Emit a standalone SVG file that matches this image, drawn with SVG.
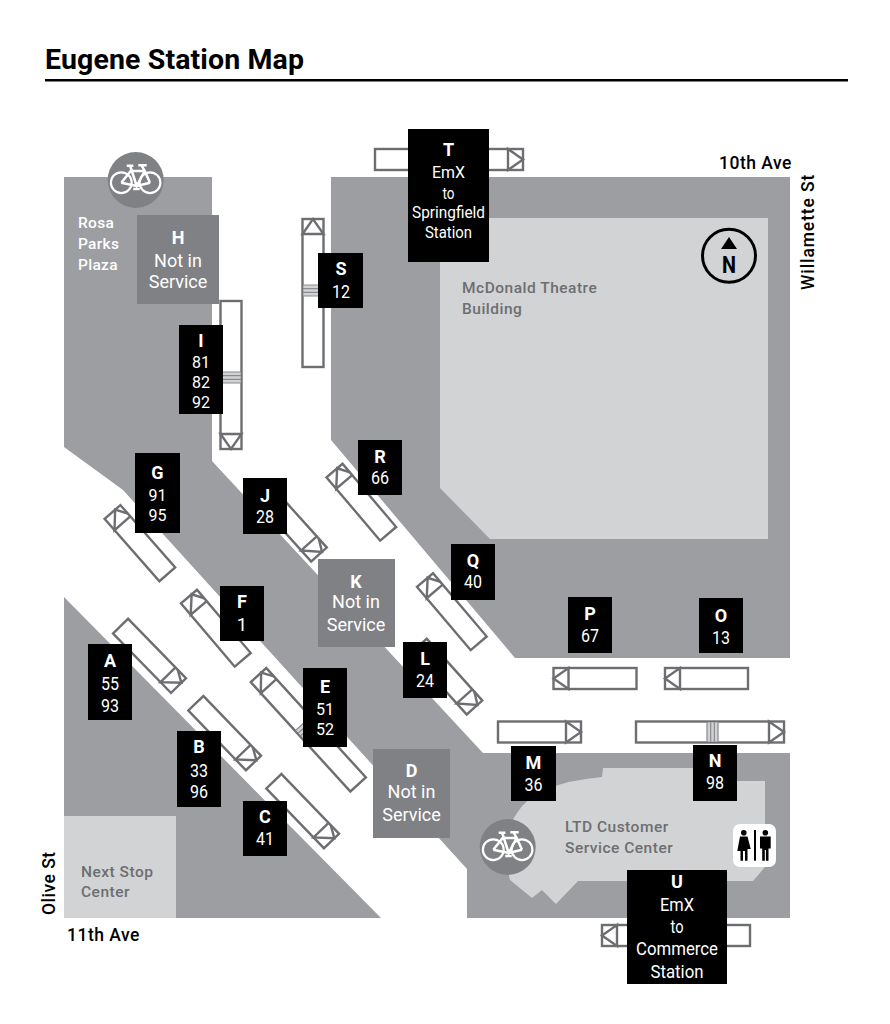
<svg xmlns="http://www.w3.org/2000/svg" width="890" height="1024" viewBox="0 0 890 1024">
<style>
text{font-family:Roboto,"Liberation Sans",sans-serif}
.g{fill:#9d9ea1}.lt{fill:#d1d3d4}
.k{fill:#000}.ns{fill:#808184}
.b{fill:#fff;stroke:#6d6e71;stroke-width:2.4}
.a{fill:none;stroke:#6d6e71;stroke-width:2.4;stroke-linejoin:miter}
.d{fill:none;stroke:#8a8b8e;stroke-width:1.2}
.dz{fill:#d1d3d4}
.L{fill:#fff;font-size:18px;font-weight:700;text-anchor:middle}
.n{fill:#fff;font-size:18.500px;font-weight:400;text-anchor:middle}
.n3{fill:#fff;font-size:17px;font-weight:400;text-anchor:middle}
.t{fill:#fff;font-size:17px;font-weight:400;text-anchor:middle}
.u{fill:#fff;font-size:18.500px;font-weight:400;text-anchor:middle}
.v{fill:#fff;font-size:18px;font-weight:400;text-anchor:middle}
.w{fill:#fff;font-size:15.500px;font-weight:500;letter-spacing:.3px}
.m{fill:#6d6e71;font-size:15.500px;font-weight:500;letter-spacing:.5px}
.s{fill:#000;font-size:17.500px;font-weight:500;letter-spacing:.5px}
</style>
<defs>
<g id="door"><rect class="dz" x="66" y="-9.500" width="11" height="19"/><path class="d" d="M66-10V10M69.700-10V10M73.300-10V10M77-10V10"/></g>
<g id="bay82"><rect class="b" x="0" y="-10.500" width="83" height="21"/><path class="a" d="M15-10.500V10.500L0 0Z"/></g>
<g id="bay82a"><rect class="b" x="0" y="-10.500" width="83" height="21"/><path class="a" d="M15-10.500V10.500L0-3.500L11.500-10.500"/></g>
<g id="bay82b"><rect class="b" x="0" y="-10.500" width="83" height="21"/><path class="a" d="M15 10.500V-10.500L0 4L12 10.500"/></g>
<g id="bay148"><rect class="b" x="0" y="-10.500" width="148" height="21"/><path class="a" d="M15-10.500V10.500L0 0Z"/><use href="#door"/></g>
<g id="bay148a"><rect class="b" x="0" y="-10.500" width="148" height="21"/><path class="a" d="M15-10.500V10.500L0-3.500L11.500-10.500"/><use href="#door"/></g>
<g id="bike" fill="none" stroke="#fff">
<circle cx="-14.400" cy="2.700" r="10.400" stroke-width="2.200"/><circle cx="14.300" cy="2.700" r="10.400" stroke-width="2.200"/>
<path stroke-width="2.500" d="M-14.400 2.700L-5-9H9L14.300 2.700M-5.500-14L1 6L9-9M-14.400 2.700L1 6L14.300 2.700M6-14.300L9-9M2.600-14.800H11M-9-14.300H-2.300M-2.500 9H4"/>
</g>
</defs>
<text x="45" y="69" fill="#000" font-weight="700" style="font-size:28.500px;letter-spacing:.12px">Eugene Station Map</text>
<rect x="45" y="79" width="803" height="2.500" fill="#000"/>
<g id="map-ground">
<path class="g" d="M64 177H212V461L483 753H790V918H467V869L123 490L64 447Z"/>
<path class="g" d="M64 597L381 918H64Z"/>
<path class="g" d="M331 177H790V658H515L331 440Z"/>
<path class="lt" d="M440 218H768V539H490L440 488Z"/>
<rect class="lt" x="64" y="816" width="112" height="102"/>
<path class="lt" d="M603 768H700V781H765V867L753 881H578L556 904L542 890L532 898L510 880L500 840L517 813Q535 783 602 777Z"/>
</g>
<g id="labels">
<text class="w" x="78" y="228">Rosa</text><text class="w" x="78" y="249">Parks</text><text class="w" x="78" y="270">Plaza</text>
<text class="m" x="462" y="293">McDonald Theatre</text><text class="m" x="462" y="314">Building</text>
<text class="m" x="81" y="877">Next Stop</text><text class="m" x="81" y="897">Center</text>
<text class="m" x="565" y="832">LTD Customer</text><text class="m" x="565" y="853">Service Center</text>
<text class="s" x="719" y="169">10th Ave</text>
<text class="s" x="67" y="941">11th Ave</text>
<text class="s" transform="translate(814 290) rotate(-90)" style="letter-spacing:.9px">Willamette St</text>
<text class="s" transform="translate(55 915) rotate(-90)">Olive St</text>
</g>
<g id="bike-north"><circle class="ns" cx="135.700" cy="180" r="28"/><use href="#bike" x="135.700" y="180"/></g>
<g id="bike-south"><circle class="ns" cx="507.700" cy="847" r="28"/><use href="#bike" x="507.700" y="847"/></g>
<g id="north"><circle cx="729" cy="255.700" r="26.500" fill="none" stroke="#000" stroke-width="3"/><path d="M729 237L737 249H721Z"/><text x="729" y="273" text-anchor="middle" font-weight="700" textLength="14" lengthAdjust="spacingAndGlyphs" style="font-size:23px">N</text></g>
<g id="restrooms"><rect x="733" y="824" width="43" height="43" rx="7" fill="#fff"/>
<circle cx="743.800" cy="832.800" r="2.800"/><path d="M740 836.500H747.500L750.700 849H747.500V860.700H745V851H743V860.700H740.500V851H737.300Z"/>
<rect x="754" y="830" width="2" height="30.700"/>
<circle cx="765.300" cy="832.800" r="2.800"/><path d="M760 836.500H770.700V848.500H768.500V860.700H765.900V850H764.800V860.700H762.200V848.500H760Z"/></g>
<g id="connectors"></g>
<g id="stop-T"><use href="#bay148" transform="translate(523 159.500) rotate(180)"/><rect class="k" x="408" y="129" width="81" height="133"/><text class="L" x="448.500" y="156">T</text><text class="t" x="448.500" y="178" textLength="33" lengthAdjust="spacingAndGlyphs">EmX</text><text class="t" x="448.500" y="199" textLength="12" lengthAdjust="spacingAndGlyphs">to</text><text class="t" x="448.500" y="218" textLength="73" lengthAdjust="spacingAndGlyphs">Springfield</text><text class="t" x="448.500" y="238" textLength="47" lengthAdjust="spacingAndGlyphs">Station</text></g>
<g id="stop-S"><use href="#bay148" transform="translate(313 219) rotate(90)"/><rect class="k" x="318" y="253" width="45" height="55"/><text class="L" x="341" y="275">S</text><text class="n" x="341" y="298" textLength="18" lengthAdjust="spacingAndGlyphs">12</text></g>
<g id="stop-H"><rect class="ns" x="137" y="215" width="82" height="89"/><text class="L" x="178" y="244">H</text><text class="v" x="178" y="267">Not in</text><text class="v" x="178" y="288">Service</text></g>
<g id="stop-I"><use href="#bay148" transform="translate(231 449) rotate(-90)"/><rect class="k" x="179" y="325" width="44" height="89"/><text class="L" x="201" y="347">I</text><text class="n3" x="201" y="368" textLength="18" lengthAdjust="spacingAndGlyphs">81</text><text class="n3" x="201" y="388" textLength="18" lengthAdjust="spacingAndGlyphs">82</text><text class="n3" x="201" y="408" textLength="18" lengthAdjust="spacingAndGlyphs">92</text></g>
<g id="stop-G"><use href="#bay82a" transform="translate(112.500 512) rotate(48.700)"/><rect class="k" x="135" y="453" width="45" height="80"/><text class="L" x="157.500" y="479">G</text><text class="n3" x="157.500" y="501" textLength="18" lengthAdjust="spacingAndGlyphs">91</text><text class="n3" x="157.500" y="521" textLength="18" lengthAdjust="spacingAndGlyphs">95</text></g>
<g id="stop-J"><use href="#bay82b" transform="translate(319 554.500) rotate(228)"/><rect class="k" x="243" y="478" width="44" height="56"/><text class="L" x="265" y="502">J</text><text class="n" x="265" y="523" textLength="18" lengthAdjust="spacingAndGlyphs">28</text></g>
<g id="stop-F"><use href="#bay82a" transform="translate(189 596.500) rotate(49.700)"/><rect class="k" x="220" y="586" width="44" height="55"/><text class="L" x="242" y="608">F</text><text class="n" x="242" y="631">1</text></g>
<g id="stop-A"><use href="#bay82b" transform="translate(178.500 685.500) rotate(225.700)"/><rect class="k" x="88" y="644" width="44" height="76"/><text class="L" x="110" y="667">A</text><text class="n" x="110" y="690" textLength="18" lengthAdjust="spacingAndGlyphs">55</text><text class="n" x="110" y="712" textLength="18" lengthAdjust="spacingAndGlyphs">93</text></g>
<g id="stop-E"><use href="#bay148a" transform="translate(258.500 675) rotate(47.700)"/><rect class="k" x="303" y="668" width="44" height="79"/><text class="L" x="325" y="693">E</text><text class="n3" x="325" y="715" textLength="18" lengthAdjust="spacingAndGlyphs">51</text><text class="n3" x="325" y="735" textLength="18" lengthAdjust="spacingAndGlyphs">52</text></g>
<g id="stop-B"><use href="#bay82b" transform="translate(253.500 763) rotate(226)"/><rect class="k" x="177" y="731" width="44" height="76"/><text class="L" x="199" y="753">B</text><text class="n" x="199" y="777" textLength="18" lengthAdjust="spacingAndGlyphs">33</text><text class="n" x="199" y="798" textLength="18" lengthAdjust="spacingAndGlyphs">96</text></g>
<g id="stop-C"><use href="#bay82b" transform="translate(331.500 841) rotate(226)"/><rect class="k" x="243" y="801" width="44" height="55"/><text class="L" x="265" y="823">C</text><text class="n" x="265" y="845" textLength="18" lengthAdjust="spacingAndGlyphs">41</text></g>
<g id="stop-D"><rect class="ns" x="373" y="749" width="77" height="89"/><text class="L" x="411.500" y="777">D</text><text class="v" x="411.500" y="798">Not in</text><text class="v" x="411.500" y="821">Service</text></g>
<g id="stop-K"><rect class="ns" x="318" y="559" width="77" height="88"/><text class="L" x="356" y="588">K</text><text class="v" x="356" y="608">Not in</text><text class="v" x="356" y="631">Service</text></g>
<g id="stop-R"><use href="#bay82a" transform="translate(334.500 470.500) rotate(49.700)"/><rect class="k" x="358" y="440" width="44" height="55"/><text class="L" x="380" y="463">R</text><text class="n" x="380" y="484" textLength="18" lengthAdjust="spacingAndGlyphs">66</text></g>
<g id="stop-Q"><use href="#bay82a" transform="translate(425 580) rotate(49.700)"/><rect class="k" x="451" y="544" width="44" height="56"/><text class="L" x="473" y="567">Q</text><text class="n" x="473" y="588" textLength="18" lengthAdjust="spacingAndGlyphs">40</text></g>
<g id="stop-L"><use href="#bay82b" transform="translate(474.500 707.500) rotate(228)"/><rect class="k" x="403" y="642" width="44" height="56"/><text class="L" x="425" y="665">L</text><text class="n" x="425" y="687" textLength="18" lengthAdjust="spacingAndGlyphs">24</text></g>
<g id="stop-P"><use href="#bay82" transform="translate(553.500 678.500)"/><rect class="k" x="568" y="597" width="44" height="56"/><text class="L" x="590" y="620">P</text><text class="n" x="590" y="642" textLength="18" lengthAdjust="spacingAndGlyphs">67</text></g>
<g id="stop-O"><use href="#bay82" transform="translate(665 678.500)"/><rect class="k" x="699" y="598" width="44" height="55"/><text class="L" x="721" y="622">O</text><text class="n" x="721" y="644" textLength="18" lengthAdjust="spacingAndGlyphs">13</text></g>
<g id="stop-M"><use href="#bay82" transform="translate(581 732) rotate(180)"/><rect class="k" x="511" y="746" width="45" height="55"/><text class="L" x="533.500" y="769">M</text><text class="n" x="533.500" y="791" textLength="18" lengthAdjust="spacingAndGlyphs">36</text></g>
<g id="stop-N"><use href="#bay148" transform="translate(784 732) rotate(180)"/><rect class="k" x="693" y="745" width="44" height="56"/><text class="L" x="715" y="767">N</text><text class="n" x="715" y="789" textLength="18" lengthAdjust="spacingAndGlyphs">98</text></g>
<g id="stop-U"><use href="#bay148" transform="translate(602 935.500)"/><rect class="k" x="627" y="870" width="100" height="114"/><text class="L" x="677" y="888">U</text><text class="u" x="677" y="911" textLength="34" lengthAdjust="spacingAndGlyphs">EmX</text><text class="u" x="677" y="933" textLength="13" lengthAdjust="spacingAndGlyphs">to</text><text class="u" x="677" y="955" textLength="82" lengthAdjust="spacingAndGlyphs">Commerce</text><text class="u" x="677" y="978" textLength="53" lengthAdjust="spacingAndGlyphs">Station</text></g>
</svg>
